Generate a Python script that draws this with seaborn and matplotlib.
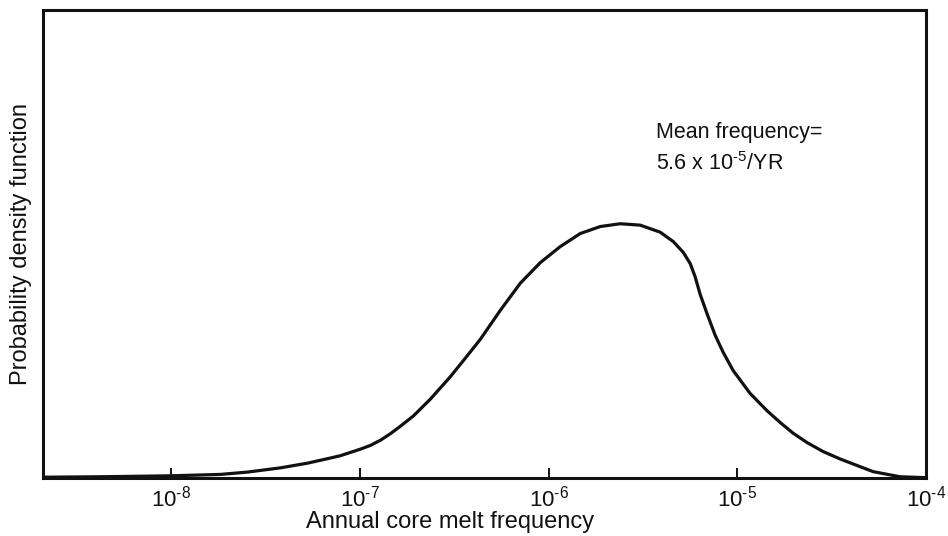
import numpy as np
import pandas as pd
import matplotlib
matplotlib.use("Agg")
import matplotlib.pyplot as plt
from matplotlib.ticker import FixedLocator, NullLocator
import seaborn as sns

# Annual core melt frequency (log10 of per-year value) and relative probability density
log_freq = [-8.682, -8.375, -8.004, -7.739, -7.596, -7.422, -7.279, -7.157, -7.104,
            -6.998, -6.945, -6.892, -6.839, -6.786, -6.717, -6.627, -6.521, -6.441,
            -6.362, -6.256, -6.150, -6.044, -5.939, -5.833, -5.727, -5.621, -5.515,
            -5.409, -5.340, -5.287, -5.250, -5.224, -5.197, -5.160, -5.118, -5.075,
            -5.022, -4.932, -4.842, -4.773, -4.704, -4.630, -4.546, -4.455, -4.365,
            -4.281, -4.138, -4.000]
density = [0.001, 0.002, 0.004, 0.007, 0.012, 0.021, 0.031, 0.042, 0.047,
           0.061, 0.069, 0.080, 0.094, 0.110, 0.132, 0.168, 0.216, 0.256,
           0.296, 0.358, 0.416, 0.460, 0.494, 0.522, 0.537, 0.543, 0.540,
           0.525, 0.505, 0.482, 0.458, 0.430, 0.392, 0.350, 0.305, 0.268,
           0.229, 0.180, 0.143, 0.118, 0.095, 0.075, 0.056, 0.040, 0.026,
           0.013, 0.002, 0.000]

tick_exponents = [-8, -7, -6, -5, -4]
hyphen = "\u2010"
tick_labels = [r"$\mathregular{10^{%s%d}}$" % (hyphen, abs(e)) for e in tick_exponents]

x_label = "Annual core melt frequency"
y_label = "Probability density function"
note_lines = ["Mean frequency=", r"5.6 x 10$\mathregular{^{%s5}}$/YR" % hyphen]

df = pd.DataFrame({"freq": np.power(10.0, log_freq), "density": density})

sns.set_style("white")
plt.rcParams["font.family"] = ["Liberation Sans", "DejaVu Sans"]
plt.rcParams["mathtext.fontset"] = "custom"
plt.rcParams["mathtext.rm"] = "Liberation Sans"
plt.rcParams["mathtext.it"] = "Liberation Sans:italic"
plt.rcParams["mathtext.bf"] = "Liberation Sans:bold"

ink = "#111111"
fig = plt.figure(figsize=(9.48, 5.36), dpi=100)
ax = fig.add_axes([0.045, 0.1088, 0.9318, 0.8725])

sns.lineplot(data=df, x="freq", y="density", ax=ax, color=ink, linewidth=2.3,
             sort=True, estimator=None)
for ln in ax.lines:
    ln.set_solid_joinstyle("round")
    ln.set_solid_capstyle("round")

ax.set_xscale("log")
ax.set_xlim(10 ** -8.682, 10 ** -4.0)
ax.set_ylim(0, 1.0)

ax.xaxis.set_major_locator(FixedLocator([10.0 ** e for e in tick_exponents]))
ax.xaxis.set_minor_locator(NullLocator())
ax.set_xticklabels(tick_labels)
ax.tick_params(axis="x", direction="in", length=7, width=1.4, color=ink,
               labelsize=16, pad=6, labelcolor=ink, bottom=True)
ax.set_yticks([])

for side in ax.spines.values():
    side.set_linewidth(2.2)
    side.set_color(ink)

ax.set_xlabel(x_label, fontsize=17, color=ink, labelpad=1)
ax.xaxis.set_label_coords(0.461, -0.072)
ax.set_ylabel(y_label, fontsize=17, color=ink, labelpad=8)

ax.text(0.694, 0.727, note_lines[0], transform=ax.transAxes, fontsize=15.5,
        color=ink, ha="left", va="baseline")
ax.text(0.694, 0.658, note_lines[1], transform=ax.transAxes, fontsize=15.5,
        color=ink, ha="left", va="baseline")

fig.savefig("out.png", dpi=100)
